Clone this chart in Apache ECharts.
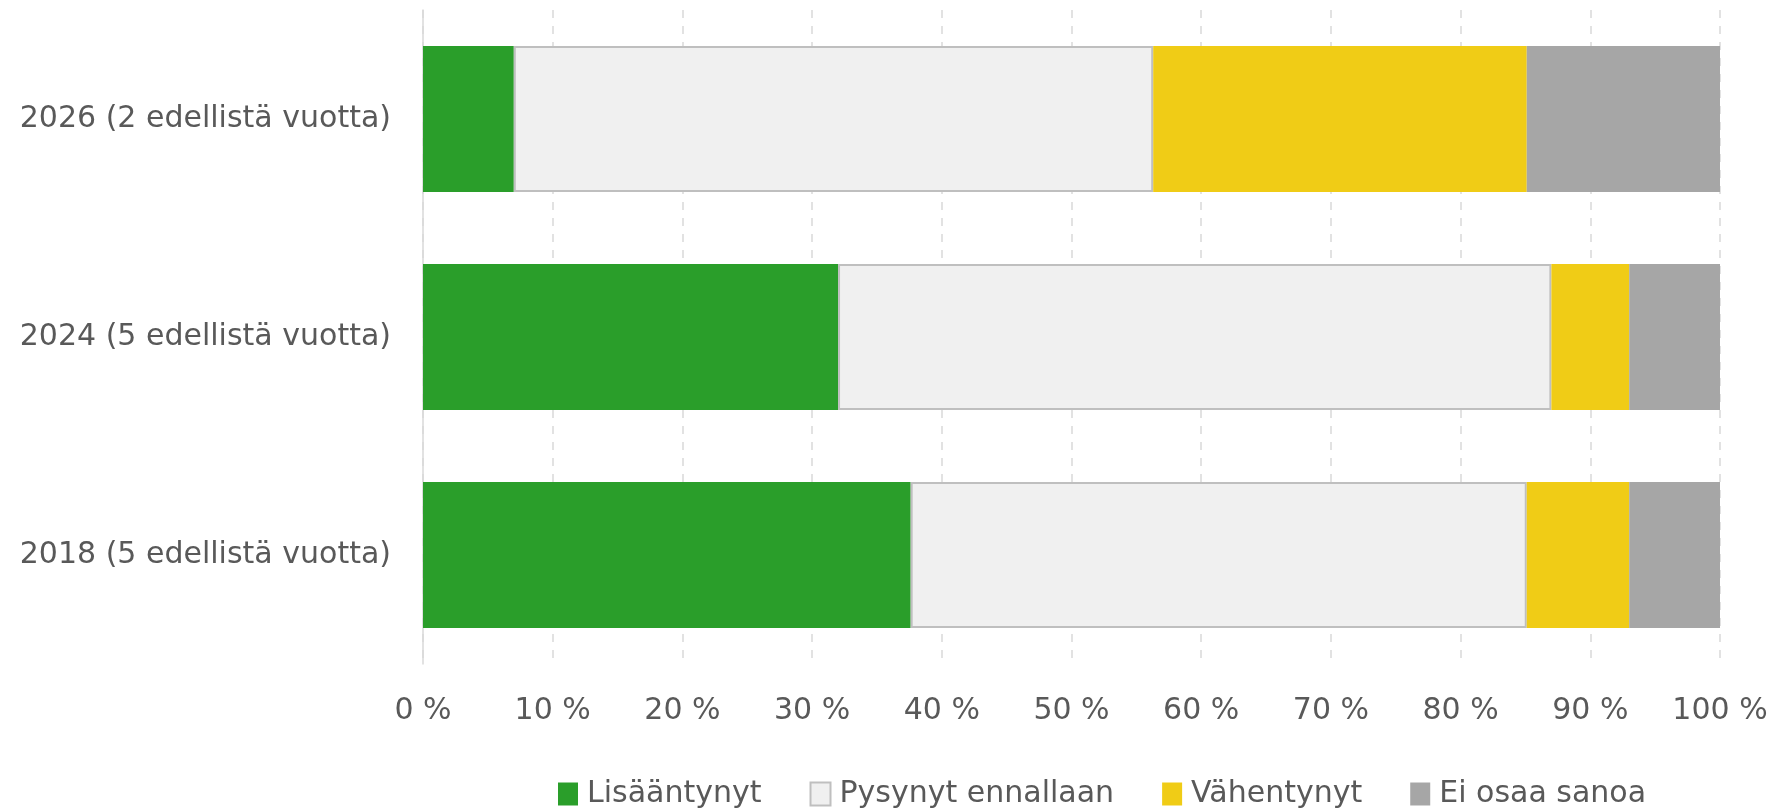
<!DOCTYPE html>
<html>
<head>
<meta charset="utf-8">
<script src="https://cdn.jsdelivr.net/npm/echarts@6/dist/echarts.min.js"></script>
<style>
  html, body { margin: 0; padding: 0; background: #fff; }
  #chart { width: 1778px; height: 812px; }
</style>
</head>
<body>
<div id="chart"></div>
<script>
var categories = ['2026 (2 edellistä vuotta)', '2024 (5 edellistä vuotta)', '2018 (5 edellistä vuotta)'];
var lisaantynyt = [7, 32, 37.6];
var pysynyt = [49.3, 55, 47.5];
var vahentynyt = [28.8, 6, 7.9];
var eiOsaa = [14.9, 7, 7];
var xTicks = [0, 10, 20, 30, 40, 50, 60, 70, 80, 90, 100];

var font = 'DejaVu Sans';
var textColor = '#595959';

var dom = document.getElementById('chart');
var myChart = echarts.init(dom);

function barSeries(name, data, color, border) {
    return {
        name: name,
        type: 'bar',
        stack: 'total',
        barCategoryGap: '33%',
        data: data,
        itemStyle: {
            color: color,
            borderColor: border || color,
            borderWidth: border ? 2 : 0
        },
        emphasis: { disabled: true }
    };
}

var option = {
    animation: false,
    textStyle: { fontFamily: font },
    grid: { left: 423, right: 58, top: 10, bottom: 148, containLabel: false },
    legend: {
        left: 553,
        top: 774,
        itemWidth: 20,
        itemHeight: 23,
        itemGap: 48,
        icon: 'rect',
        textStyle: { fontFamily: font, fontSize: 30, color: textColor, padding: [0, 0, 0, 4] },
        data: ['Lisääntynyt', 'Pysynyt ennallaan', 'Vähentynyt', 'Ei osaa sanoa']
    },
    xAxis: {
        type: 'value',
        min: xTicks[0],
        max: xTicks[xTicks.length - 1],
        interval: 10,
        axisLine: { show: false },
        axisTick: { show: false },
        splitLine: { show: true, lineStyle: { color: '#d9d9d9', type: [8, 8], width: 1.5 } },
        axisLabel: {
            margin: 32,
            fontSize: 30,
            color: textColor,
            fontFamily: font,
            formatter: function (v) { return v + ' %'; }
        }
    },
    yAxis: {
        type: 'category',
        inverse: true,
        data: categories,
        axisLine: { show: true, lineStyle: { color: '#d9d9d9', width: 1.5 } },
        axisTick: { show: false },
        axisLabel: { margin: 32, fontSize: 30, color: textColor, fontFamily: font }
    },
    series: [
        barSeries('Lisääntynyt', lisaantynyt, '#2a9e2a'),
        barSeries('Pysynyt ennallaan', pysynyt, '#f0f0f0', '#bfbfbf'),
        barSeries('Vähentynyt', vahentynyt, '#f0cc16'),
        barSeries('Ei osaa sanoa', eiOsaa, '#a6a6a6')
    ]
};

myChart.setOption(option, true);
</script>
</body>
</html>
